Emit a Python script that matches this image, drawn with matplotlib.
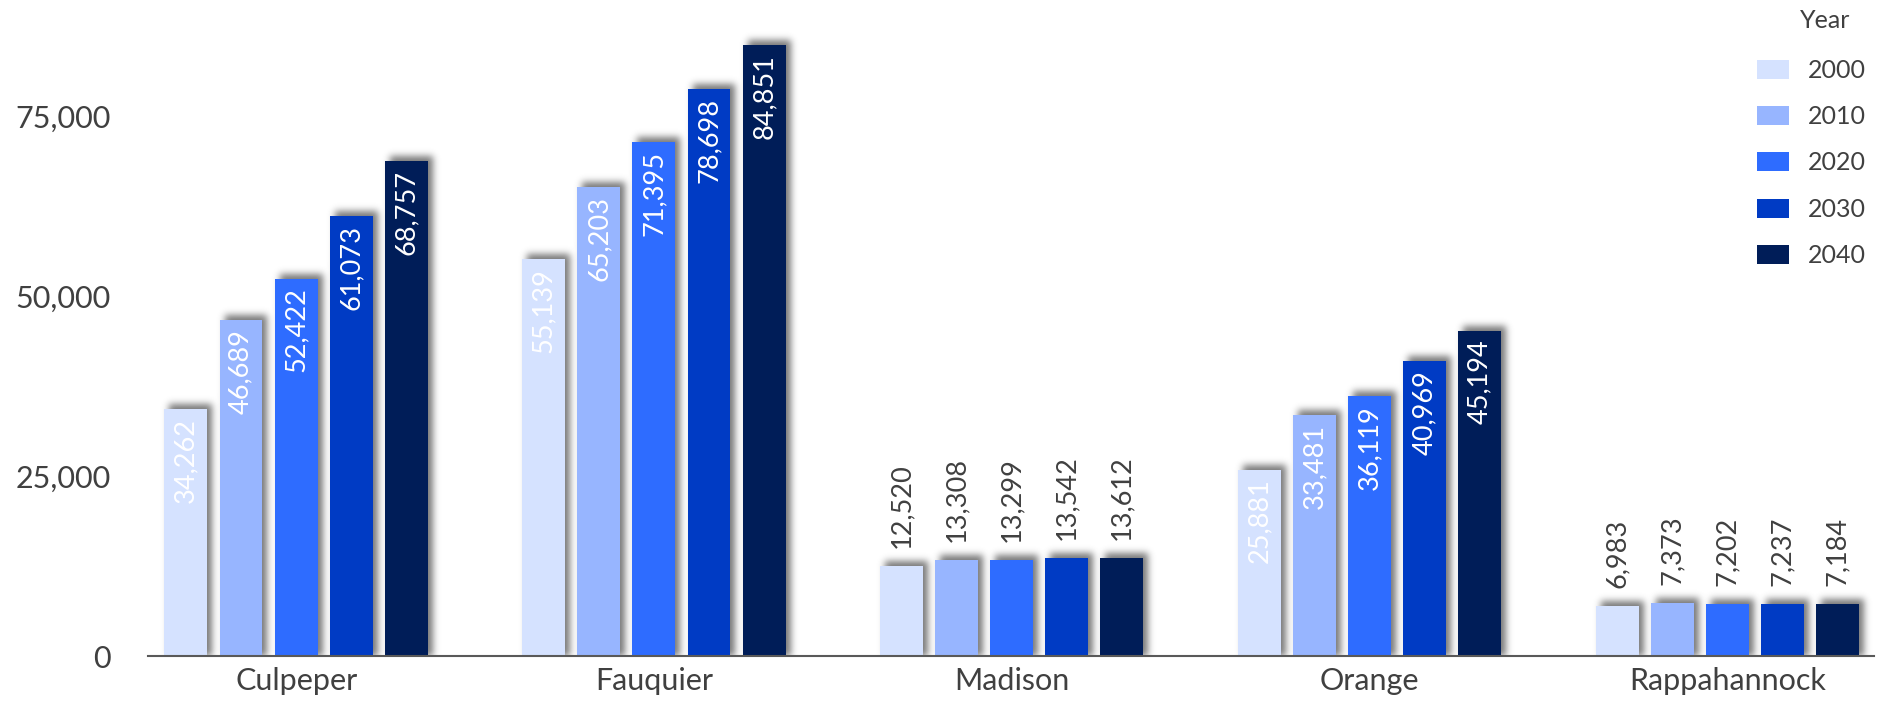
import numpy as np
import matplotlib
matplotlib.use("Agg")
import matplotlib.pyplot as plt
from matplotlib.ticker import FuncFormatter

# Population by county and year
counties = ["Culpeper", "Fauquier", "Madison", "Orange", "Rappahannock"]
years = ["2000", "2010", "2020", "2030", "2040"]
pop_2000 = [34262, 55139, 12520, 25881, 6983]
pop_2010 = [46689, 65203, 13308, 33481, 7373]
pop_2020 = [52422, 71395, 13299, 36119, 7202]
pop_2030 = [61073, 78698, 13542, 40969, 7237]
pop_2040 = [68757, 84851, 13612, 45194, 7184]
y_ticks = [0, 25000, 50000, 75000]

colors = ["#d5e2ff", "#97b5ff", "#2e6cff", "#003bc4", "#001d58"]
text_color = "#404040"
main_font = ["Lato", "DejaVu Sans"]

W, H, DPI = 1884, 701, 100
fig = plt.figure(figsize=(W / DPI, H / DPI), dpi=DPI)
fig.patch.set_facecolor("white")
ax = fig.add_axes([148 / W, 45 / H, (1874 - 148) / W, 648 / H])
ax.set_facecolor("none")
xlim = (-0.414, 4.41)
ylim = (0, 90000)
ax.set_xlim(*xlim)
ax.set_ylim(*ylim)

series = [pop_2000, pop_2010, pop_2020, pop_2030, pop_2040]
n = len(series)
step = 0.154
width = 0.12
x = np.arange(len(counties))

all_bars = []
for i, (vals, year, col) in enumerate(zip(series, years, colors)):
    offs = (i - (n - 1) / 2) * step
    bars = ax.bar(x + offs, vals, width, color=col, label=year, zorder=3)
    all_bars.append(bars)
    for b, v in zip(bars, vals):
        cx = b.get_x() + b.get_width() / 2
        if v > 20000:
            ax.annotate(f"{v:,}", (cx, v), xytext=(0, -9),
                        textcoords="offset pixels", rotation=90,
                        ha="center", va="top", color="white",
                        fontsize=19.5, family=main_font, zorder=4)
        else:
            ax.annotate(f"{v:,}", (cx, v), xytext=(0, 18),
                        textcoords="offset pixels", rotation=90,
                        ha="center", va="bottom", color=text_color,
                        fontsize=19.5, family=main_font, zorder=4)

# Soft drop shadow behind the bars
bbox = ax.get_window_extent()
aw, ah = int(round(bbox.width)), int(round(bbox.height))
mask = np.zeros((ah, aw))
dx, dy = 5, 5
for bars in all_bars:
    for b in bars:
        (px0, py0), (px1, py1) = ax.transData.transform(
            [(b.get_x(), 0), (b.get_x() + b.get_width(), b.get_height())])
        c0 = int(round(px0 - bbox.x0 + dx))
        c1 = int(round(px1 - bbox.x0 + dx))
        r0 = int(round(bbox.y1 - (py1 + dy)))
        r1 = int(round(bbox.y1 - py0))
        mask[max(r0, 0):min(r1, ah), max(c0, 0):min(c1, aw)] = 1.0

sigma = 3.5
k = np.arange(-12, 13)
kern = np.exp(-0.5 * (k / sigma) ** 2)
kern /= kern.sum()
mask = np.apply_along_axis(lambda r: np.convolve(r, kern, mode="same"), 1, mask)
mask = np.apply_along_axis(lambda c: np.convolve(c, kern, mode="same"), 0, mask)
shadow = np.zeros((ah, aw, 4))
shadow[..., :3] = 0.3
shadow[..., 3] = np.clip(mask, 0, 1) * 0.75
ax.imshow(shadow, extent=(xlim[0], xlim[1], ylim[0], ylim[1]),
          aspect="auto", zorder=1, interpolation="bilinear")
ax.set_xlim(*xlim)
ax.set_ylim(*ylim)

# Axes styling
for side in ("left", "top", "right"):
    ax.spines[side].set_visible(False)
ax.spines["bottom"].set_color("#595959")
ax.spines["bottom"].set_linewidth(1.5)
ax.spines["bottom"].set_zorder(5)

ax.set_yticks(y_ticks)
ax.yaxis.set_major_formatter(FuncFormatter(lambda v, p: f"{v:,.0f}"))
ax.set_xticks(x)
ax.set_xticklabels(counties)
ax.tick_params(axis="y", length=0, pad=27, labelsize=22, labelcolor=text_color)
ax.tick_params(axis="x", length=0, pad=8, labelsize=22, labelcolor=text_color)
for lab in ax.get_xticklabels() + ax.get_yticklabels():
    lab.set_family(main_font)

# Legend
leg = ax.legend(loc="upper right", bbox_to_anchor=(1866 / W, 1 - 59 / H),
                bbox_transform=fig.transFigure, frameon=False,
                prop={"family": main_font, "size": 18},
                borderpad=0, borderaxespad=0,
                handlelength=1.3, handleheight=0.8, labelspacing=0.93,
                handletextpad=0.75)
for t in leg.get_texts():
    t.set_color(text_color)
fig.text(1825 / W, 1 - 20 / H, "Year", ha="center", va="center",
         fontsize=18, family=main_font, color=text_color)

fig.savefig("out.png", dpi=DPI, facecolor="white")
